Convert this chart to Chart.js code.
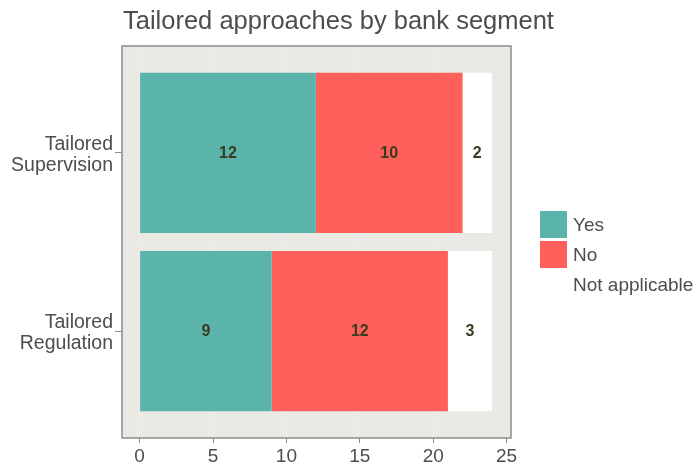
<!DOCTYPE html>
<html>
<head>
<meta charset="utf-8">
<script src="https://cdn.jsdelivr.net/npm/chart.js@4.4.1/dist/chart.umd.min.js"></script>
<style>
  html, body { margin: 0; padding: 0; background: #fff; }
</style>
</head>
<body>
<canvas id="chart" width="699" height="464"></canvas>
<script>
// Data
const categories = [["Tailored", "Supervision"], ["Tailored", "Regulation"]];
const categoryPos = [1, 2];
const seriesNames = ["Yes", "No", "Not applicable"];
const yesValues = [12, 9];
const noValues = [10, 12];
const naValues = [2, 3];
const xTicks = [0, 5, 10, 15, 20, 25];

const seriesColors = ["#5AB4AC", "#FF605C", "#FFFFFF"];
const textColor = "#4D4D4D";
const font = "'Liberation Sans', Arial, sans-serif";

const toPoints = (vals) => vals.map((v, i) => ({ x: v, y: categoryPos[i] }));

// Panel background, title, custom legend and value labels
const decorations = {
    id: "decorations",
    beforeDraw(chart) {
        const { ctx, chartArea: a } = chart;
        ctx.save();
        ctx.fillStyle = "#EBE9E4";
        ctx.fillRect(a.left, a.top, a.right - a.left, a.bottom - a.top);
        ctx.restore();
    },
    afterDatasetsDraw(chart) {
        const { ctx, chartArea: a } = chart;
        ctx.save();
        // frame
        ctx.strokeStyle = "#8C8C8C";
        ctx.lineWidth = 1.5;
        ctx.strokeRect(a.left, a.top, a.right - a.left, a.bottom - a.top);

        // value labels
        ctx.font = "bold 16px " + font;
        ctx.fillStyle = "#3B3B1F";
        ctx.textAlign = "center";
        ctx.textBaseline = "middle";
        chart.data.datasets.forEach((ds, di) => {
            const meta = chart.getDatasetMeta(di);
            meta.data.forEach((bar, i) => {
                const start = bar.base, end = bar.x;
                ctx.fillText(String(ds.data[i].x), (start + end) / 2, bar.y + 1);
            });
        });

        // title
        ctx.font = "25.5px " + font;
        ctx.fillStyle = textColor;
        ctx.textAlign = "left";
        ctx.fillText("Tailored approaches by bank segment", a.left + 1, 22);

        // legend
        const lx = 540, ly = 211, box = 27, step = 30;
        ctx.font = "19px " + font;
        seriesNames.forEach((name, i) => {
            ctx.fillStyle = seriesColors[i];
            ctx.fillRect(lx, ly + i * step, box, box);
            ctx.fillStyle = textColor;
            ctx.textAlign = "left";
            ctx.fillText(name, lx + box + 6, ly + i * step + box / 2 + 1);
        });
        ctx.restore();
    }
};

const chart = new Chart(document.getElementById("chart"), {
    type: "bar",
    data: {
        datasets: [
            { label: seriesNames[0], data: toPoints(yesValues), backgroundColor: seriesColors[0] },
            { label: seriesNames[1], data: toPoints(noValues), backgroundColor: seriesColors[1] },
            { label: seriesNames[2], data: toPoints(naValues), backgroundColor: seriesColors[2] }
        ]
    },
    options: {
        indexAxis: "y",
        responsive: false,
        animation: false,
        devicePixelRatio: 1,
        categoryPercentage: 0.9,
        barPercentage: 1,
        borderWidth: 0,
        layout: { padding: { left: 0, right: 188, top: 46, bottom: 0 } },
        plugins: { legend: { display: false }, tooltip: { enabled: false } },
        scales: {
            x: {
                type: "linear",
                stacked: true,
                min: -1.2,
                max: 25.3,
                afterBuildTicks: (s) => { s.ticks = xTicks.map(v => ({ value: v })); },
                afterFit: (s) => { s.height = 26; },
                grid: { color: "#EFEDE9", lineWidth: 1, drawTicks: true, tickLength: 5, tickColor: "#8C8C8C" },
                border: { display: false },
                ticks: { color: textColor, font: { family: font, size: 19 }, padding: 2 }
            },
            y: {
                type: "linear",
                stacked: true,
                reverse: true,
                offset: false,
                min: 0.4,
                max: 2.6,
                afterBuildTicks: (s) => { s.ticks = categoryPos.map(v => ({ value: v })); },
                afterFit: (s) => { s.width = 122; },
                grid: { display: true, drawOnChartArea: false, offset: false, color: "rgba(0,0,0,0)", drawTicks: true, tickLength: 7, tickColor: "#8C8C8C" },
                border: { display: false },
                ticks: {
                    color: textColor,
                    font: { family: font, size: 19.5, lineHeight: 1.1 },
                    padding: 2,
                    labelOffset: 2,
                    callback: (v) => categories[categoryPos.indexOf(v)]
                }
            }
        }
    },
    plugins: [decorations]
});
</script>
</body>
</html>
